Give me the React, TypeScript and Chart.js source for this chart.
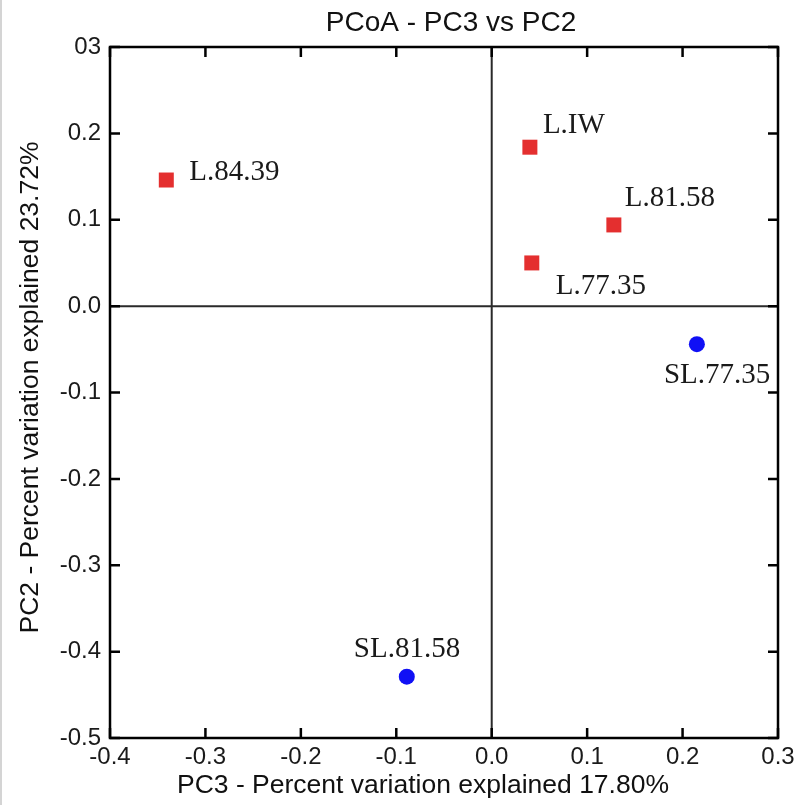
import { useEffect, useRef } from "react";
import { Chart, registerables } from "chart.js";

Chart.register(...registerables);

// ---- data ----
const lLabels = ["L.84.39", "L.IW", "L.81.58", "L.77.35"];
const lPC3 = [-0.341, 0.04, 0.128, 0.042];
const lPC2 = [0.146, 0.184, 0.094, 0.05];

const slLabels = ["SL.77.35", "SL.81.58"];
const slPC3 = [0.215, -0.089];
const slPC2 = [-0.044, -0.429];

const xTickLabels = ["-0.4", "-0.3", "-0.2", "-0.1", "0.0", "0.1", "0.2", "0.3"];
const yTickLabels = ["-0.5", "-0.4", "-0.3", "-0.2", "-0.1", "0.0", "0.1", "0.2", "03"];

const chartTitle = "PCoA - PC3 vs PC2";
const xTitle = "PC3 - Percent variation explained 17.80%";
const yTitle = "PC2 - Percent variation explained 23.72%";

// label offsets (px) relative to each marker: [dx, dy] of text left/baseline
const lLabelOffsets = [
  [23, 0],
  [13, -14],
  [11, -19],
  [24, 31],
];
const slLabelOffsets = [
  [-33, 39],
  [-53, -20],
];

export default function App() {
  const ref = useRef<HTMLCanvasElement | null>(null);

  useEffect(() => {
    document.body.style.margin = "0";
    const canvas = ref.current;
    if (!canvas) return;

    const decor = {
      id: "decor",
      beforeDraw(chart: any) {
        const ctx = chart.ctx;
        ctx.save();
        ctx.fillStyle = "#ffffff";
        ctx.fillRect(0, 0, chart.width, chart.height);
        ctx.fillStyle = "#d4d4d4";
        ctx.fillRect(0, 0, 2, chart.height);
        ctx.restore();
      },
      beforeDatasetsDraw(chart: any) {
        const ctx = chart.ctx;
        const { left, right, top, bottom } = chart.chartArea;
        const xs = chart.scales.x;
        const ys = chart.scales.y;
        const x0 = xs.getPixelForValue(0);
        const y0 = ys.getPixelForValue(0);
        ctx.save();
        ctx.strokeStyle = "#2a2a2a";
        ctx.lineWidth = 2;
        ctx.beginPath();
        ctx.moveTo(x0, top);
        ctx.lineTo(x0, bottom);
        ctx.moveTo(left, y0);
        ctx.lineTo(right, y0);
        ctx.stroke();
        ctx.restore();
      },
      afterDraw(chart: any) {
        const ctx = chart.ctx;
        const { left, right, top, bottom } = chart.chartArea;
        const xs = chart.scales.x;
        const ys = chart.scales.y;
        ctx.save();
        // frame
        ctx.strokeStyle = "#000000";
        ctx.lineWidth = 2.5;
        ctx.strokeRect(left, top, right - left, bottom - top);
        // inward ticks
        const tl = 10;
        ctx.lineWidth = 2.5;
        ctx.beginPath();
        xs.ticks.forEach((t: any) => {
          const px = xs.getPixelForValue(t.value);
          ctx.moveTo(px, bottom);
          ctx.lineTo(px, bottom - tl);
          ctx.moveTo(px, top);
          ctx.lineTo(px, top + tl);
        });
        ys.ticks.forEach((t: any) => {
          const py = ys.getPixelForValue(t.value);
          ctx.moveTo(left, py);
          ctx.lineTo(left + tl, py);
          ctx.moveTo(right, py);
          ctx.lineTo(right - tl, py);
        });
        ctx.stroke();

        // point labels
        ctx.fillStyle = "#1a1a1a";
        ctx.font = "29px 'Liberation Serif', 'DejaVu Serif', serif";
        ctx.textAlign = "left";
        ctx.textBaseline = "alphabetic";
        const m0 = chart.getDatasetMeta(0);
        m0.data.forEach((p: any, i: number) => {
          ctx.fillText(lLabels[i], p.x + lLabelOffsets[i][0], p.y + lLabelOffsets[i][1]);
        });
        const m1 = chart.getDatasetMeta(1);
        m1.data.forEach((p: any, i: number) => {
          ctx.fillText(slLabels[i], p.x + slLabelOffsets[i][0], p.y + slLabelOffsets[i][1]);
        });

        // titles
        ctx.fillStyle = "#111111";
        ctx.font = "28px 'Liberation Sans', Arial, sans-serif";
        ctx.textAlign = "center";
        ctx.textBaseline = "middle";
        ctx.fillText(chartTitle, (left + right) / 2 + 7, top - 24);

        ctx.font = "26.5px 'Liberation Sans', Arial, sans-serif";
        ctx.fillText(xTitle, (left + right) / 2 - 21, bottom + 48);

        ctx.save();
        ctx.translate(31, (top + bottom) / 2 - 5);
        ctx.rotate(-Math.PI / 2);
        ctx.fillText(yTitle, 0, 0);
        ctx.restore();

        ctx.restore();
      },
    };

    const chart = new Chart(canvas, {
      type: "scatter",
      data: {
        datasets: [
          {
            label: "L",
            data: lPC3.map((x, i) => ({ x, y: lPC2[i] })),
            pointStyle: "rect",
            pointRadius: 10.6,
            pointHoverRadius: 10.6,
            backgroundColor: "#e42f2f",
            borderWidth: 0,
          },
          {
            label: "SL",
            data: slPC3.map((x, i) => ({ x, y: slPC2[i] })),
            pointStyle: "circle",
            pointRadius: 8,
            pointHoverRadius: 8,
            backgroundColor: "#1010f5",
            borderWidth: 0,
          },
        ],
      },
      options: {
        responsive: false,
        animation: false,
        devicePixelRatio: 1,
        layout: { padding: { top: 47, right: 23, left: 0, bottom: 0 } },
        plugins: {
          legend: { display: false },
          title: { display: false },
          tooltip: { enabled: false },
        },
        scales: {
          x: {
            type: "linear",
            position: "bottom",
            min: -0.4,
            max: 0.3,
            grid: { display: false, drawTicks: false },
            border: { display: false },
            ticks: {
              stepSize: 0.1,
              padding: 5,
              color: "#1a1a1a",
              font: { family: "'Liberation Sans', Arial, sans-serif", size: 24 },
              maxRotation: 0,
              autoSkip: false,
              callback: (_v: any, i: number) => xTickLabels[i],
            },
            afterFit: (scale: any) => {
              scale.height = 67;
            },
          },
          y: {
            type: "linear",
            position: "left",
            min: -0.5,
            max: 0.3,
            grid: { display: false, drawTicks: false },
            border: { display: false },
            ticks: {
              stepSize: 0.1,
              padding: 9,
              color: "#1a1a1a",
              font: { family: "'Liberation Sans', Arial, sans-serif", size: 24 },
              autoSkip: false,
              callback: (_v: any, i: number) => yTickLabels[i],
            },
            afterFit: (scale: any) => {
              scale.width = 110;
            },
          },
        },
      },
      plugins: [decor],
    } as any);

    return () => chart.destroy();
  }, []);

  return <canvas ref={ref} width={801} height={805} style={{ display: "block" }} />;
}
